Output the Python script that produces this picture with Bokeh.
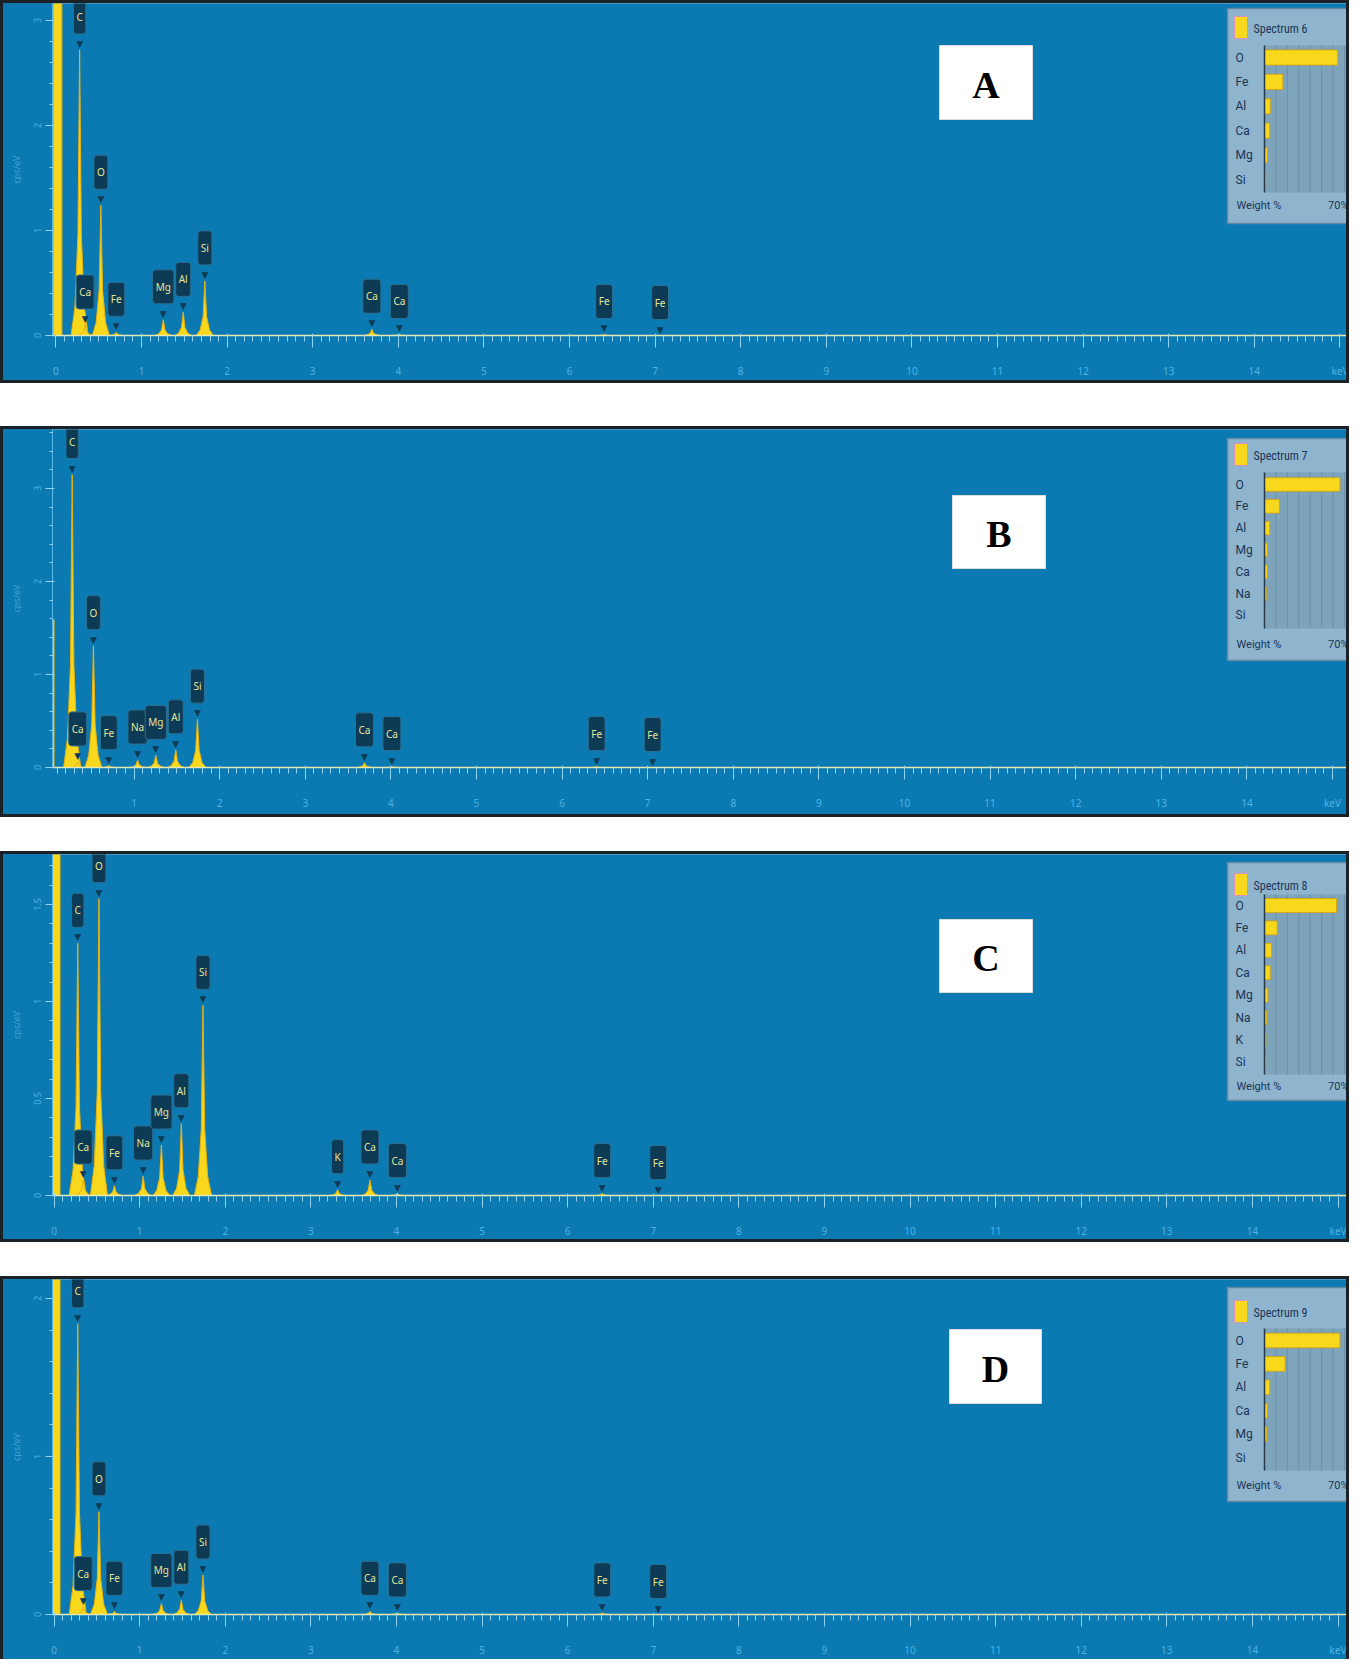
import numpy as np
from bokeh.plotting import figure
from bokeh.models import Range1d, FixedTicker, Spacer, ColumnDataSource, InlineStyleSheet
from bokeh.layouts import column
from bokeh.embed import file_html
from bokeh.resources import INLINE
from bokeh.core.properties import value

# ------------------------------------------------------------------ DATA
PANEL_LETTERS = ["A", "B", "C", "D"]
SPECTRUM_NAMES = ["Spectrum 6", "Spectrum 7", "Spectrum 8", "Spectrum 9"]

# peak lines (element label, energy keV, peak height cps/eV)
A_LINES = ["C", "Ca", "O", "Fe", "Mg", "Al", "Si", "Ca", "Ca", "Fe", "Fe"]
A_KEV = [0.277, 0.341, 0.525, 0.705, 1.254, 1.487, 1.740, 3.691, 4.012, 6.404, 7.058]
A_CPS = [2.72, 0.10, 1.24, 0.03, 0.15, 0.22, 0.52, 0.06, 0.01, 0.01, 0.00]

B_LINES = ["C", "Ca", "O", "Fe", "Na", "Mg", "Al", "Si", "Ca", "Ca", "Fe", "Fe"]
B_KEV = [0.277, 0.341, 0.525, 0.705, 1.041, 1.254, 1.487, 1.740, 3.691, 4.012, 6.404, 7.058]
B_CPS = [3.15, 0.06, 1.31, 0.02, 0.08, 0.13, 0.19, 0.52, 0.05, 0.01, 0.01, 0.00]

C_LINES = ["C", "Ca", "O", "Fe", "Na", "Mg", "Al", "Si", "K", "Ca", "Ca", "Fe", "Fe"]
C_KEV = [0.277, 0.341, 0.525, 0.705, 1.041, 1.254, 1.487, 1.740, 3.313, 3.691, 4.012, 6.404, 7.058]
C_CPS = [1.30, 0.08, 1.53, 0.05, 0.10, 0.26, 0.37, 0.98, 0.03, 0.08, 0.01, 0.01, 0.00]

D_LINES = ["C", "Ca", "O", "Fe", "Mg", "Al", "Si", "Ca", "Ca", "Fe", "Fe"]
D_KEV = [0.277, 0.341, 0.525, 0.705, 1.254, 1.487, 1.740, 3.691, 4.012, 6.404, 7.058]
D_CPS = [1.84, 0.05, 0.65, 0.02, 0.07, 0.09, 0.25, 0.02, 0.01, 0.01, 0.00]

# zero (noise) peak per panel
ZERO_KEV = [0.02, 0.05, 0.02, 0.02]
ZERO_CPS = [4.0, 1.59, 2.5, 3.0]

# y tick labels per panel
A_Y_TICKS = [0, 1, 2, 3]
B_Y_TICKS = [0, 1, 2, 3]
C_Y_TICKS = [0, 0.5, 1, 1.5]
D_Y_TICKS = [0, 1, 2]

# x ticks (keV), last one labelled with unit
X_TICKS = list(range(0, 16))
X_TICK_LABELS = [str(v) for v in range(0, 15)] + ["keV"]

# inset weight % bars
A_WT_EL = ["O", "Fe", "Al", "Ca", "Mg", "Si"]
A_WT = [64, 16, 5, 4.5, 2.5, 1.0]
B_WT_EL = ["O", "Fe", "Al", "Mg", "Ca", "Na", "Si"]
B_WT = [66, 13, 4.5, 2.5, 2.5, 1.5, 0.8]
C_WT_EL = ["O", "Fe", "Al", "Ca", "Mg", "Na", "K", "Si"]
C_WT = [63, 11, 6, 5, 3, 2, 1.2, 1.0]
D_WT_EL = ["O", "Fe", "Al", "Ca", "Mg", "Si"]
D_WT = [66, 18, 4.5, 2.5, 2.0, 0.8]
WT_MAX_LABEL = "70%"
WT_MAX = 70

# ------------------------------------------------------------------ STYLE / LAYOUT
BG = "#0b7ab3"
PEAK_FILL = "#f8d81c"
PEAK_EDGE = "#e9b10f"
TAG_BG = "#0d3a55"
TAG_EDGE = "#2b6f90"
TAG_TEXT = "#e4e69c"
AXIS_TXT = "#4fb2e4"
TICK_COL = "#8fd3f2"
INSET_BG = "#8fb4cd"
INSET_PLOT = "#7ea4bc"
INSET_TXT = "#1a3656"

PX_PER_KEV = 85.6
FRAME_LEFT_PAGE = 60
FRAME_W = 1295
HW = 0.1
PROFILE_DX = [-1.0, -0.55, -0.2, 0.0, 0.2, 0.55, 1.0]
PROFILE_FY = [0.0, 0.10, 0.35, 1.0, 0.35, 0.10, 0.0]
BAR_LEFT_PAGE = 1272
BAR_70_PAGE = 1352

BORDER_CSS = InlineStyleSheet(css="""
:host { position: relative; }
:host::after {
  content: "";
  position: absolute;
  left: 0; top: 0; right: 0; bottom: 0;
  border: 3px solid #1a2127;
  pointer-events: none;
  z-index: 1000;
}
""")
BORDER_CSS_OPEN = InlineStyleSheet(css="""
:host { position: relative; }
:host::after {
  content: "";
  position: absolute;
  left: 0; top: 0; right: 0; bottom: 0;
  border: 3px solid #1a2127;
  border-bottom: none;
  pointer-events: none;
  z-index: 1000;
}
""")

LAYOUT = [
    dict(top=8, frame_h=332, bottom=48, ppu=105, x_start=-0.04, zero_w=0.10,
         inset=(16, 231, 36, 65, 24.4, 53, 200, 213), box=(947, 1040, 53, 127)),
    dict(top=434, frame_h=338, bottom=50, ppu=93, x_start=0.047, zero_w=0.03,
         inset=(446, 668, 463, 492, 21.8, 480, 636, 652), box=(960, 1053, 503, 576)),
    dict(top=859, frame_h=341, bottom=47, ppu=194, x_start=-0.018, zero_w=0.10,
         inset=(870, 1108, 893, 913, 22.4, 902, 1082, 1094), box=(947, 1040, 927, 1000)),
    dict(top=1284, frame_h=335, bottom=45, ppu=158, x_start=-0.018, zero_w=0.10,
         inset=(1295, 1509, 1320, 1348, 23.4, 1336, 1478, 1493), box=(957, 1049, 1337, 1411)),
]

PANELS = [
    (A_LINES, A_KEV, A_CPS, A_Y_TICKS, A_WT_EL, A_WT),
    (B_LINES, B_KEV, B_CPS, B_Y_TICKS, B_WT_EL, B_WT),
    (C_LINES, C_KEV, C_CPS, C_Y_TICKS, C_WT_EL, C_WT),
    (D_LINES, D_KEV, D_CPS, D_Y_TICKS, D_WT_EL, D_WT),
]


def build(i):
    lines, kev, cps, yticks, wt_el, wt = PANELS[i]
    L = LAYOUT[i]
    ftop = L["top"] + 3
    fbot = ftop + L["frame_h"]
    p = figure(frame_width=FRAME_W, frame_height=L["frame_h"],
               min_border_left=52, min_border_right=2, min_border_top=3,
               min_border_bottom=L["bottom"],
               x_range=Range1d(L["x_start"], L["x_start"] + FRAME_W / PX_PER_KEV),
               y_range=Range1d(0, L["frame_h"] / L["ppu"]),
               output_backend="svg", toolbar_location=None,
               background_fill_color=BG, border_fill_color=BG, outline_line_color=None)
    p.stylesheets = [BORDER_CSS_OPEN if i == 3 else BORDER_CSS]
    s = (BAR_70_PAGE - BAR_LEFT_PAGE) / WT_MAX
    p.extra_x_ranges = {
        "px": Range1d(FRAME_LEFT_PAGE, FRAME_LEFT_PAGE + FRAME_W),
        "wt": Range1d((FRAME_LEFT_PAGE - BAR_LEFT_PAGE) / s,
                      (FRAME_LEFT_PAGE + FRAME_W - BAR_LEFT_PAGE) / s),
    }
    p.extra_y_ranges = {"px": Range1d(fbot, ftop)}
    p.grid.grid_line_color = None

    # x axis
    xa = p.xaxis[0]
    xa.ticker = FixedTicker(ticks=X_TICKS, minor_ticks=list(np.arange(0, 151) / 10))
    xa.major_label_overrides = {t: lab for t, lab in zip(X_TICKS, X_TICK_LABELS)}
    xa.axis_line_color = "#e8eab0"
    xa.axis_line_width = 1.5
    xa.major_tick_line_color = TICK_COL
    xa.minor_tick_line_color = TICK_COL
    xa.major_tick_in = 2
    xa.major_tick_out = 12
    xa.minor_tick_in = 0
    xa.minor_tick_out = 6
    xa.major_label_standoff = 16
    xa.major_label_text_color = AXIS_TXT
    xa.major_label_text_font = "Noto Sans"
    xa.major_label_text_font_size = "10px"

    # y axis
    ya = p.yaxis[0]
    ystep = yticks[1] - yticks[0]
    ya.ticker = FixedTicker(ticks=yticks,
                            minor_ticks=list(np.arange(0, 5 * len(yticks) + 5) * ystep / 5))
    ya.axis_line_color = "#5ab7e6"
    ya.major_tick_line_color = TICK_COL
    ya.minor_tick_line_color = TICK_COL
    ya.major_tick_out = 7
    ya.minor_tick_out = 3
    ya.major_label_orientation = "vertical"
    ya.major_label_text_color = AXIS_TXT
    ya.major_label_text_font = "Noto Sans"
    ya.major_label_text_font_size = "9px"
    ya.axis_label = "cps/eV"
    ya.axis_label_text_color = "#3fa2d6"
    ya.axis_label_text_font = "Noto Sans"
    ya.axis_label_text_font_style = "normal"
    ya.axis_label_text_font_size = "9px"
    ya.axis_label_standoff = 8

    # zero peak
    p.vbar(x=[ZERO_KEV[i]], top=[ZERO_CPS[i]], bottom=0, width=L["zero_w"],
           fill_color=PEAK_FILL, line_color=PEAK_EDGE, line_width=1)
    # element peaks
    xs = [[e + d * HW for d in PROFILE_DX] for e in kev]
    ys = [[h * f for f in PROFILE_FY] for h in cps]
    p.patches(xs, ys, fill_color=PEAK_FILL, line_color=PEAK_EDGE, line_width=1)

    # element tags
    src = ColumnDataSource(dict(x=kev, y=cps, t=lines))
    p.text(x="x", y="y", text=value("\u25BC"), source=src, y_offset=-1,
           text_align="center", text_baseline="bottom", text_color=TAG_BG,
           text_font=value("DejaVu Sans"), text_font_size="9px")
    p.text(x="x", y="y", text="t", source=src, y_offset=-16,
           text_align="center", text_baseline="bottom", text_color=TAG_TEXT,
           text_font=value("Noto Sans"), text_font_size="10px",
           background_fill_color=TAG_BG, border_line_color=TAG_EDGE,
           padding=dict(left=3, right=3, top=10, bottom=10), border_radius=3)

    # letter box
    bx0, bx1, by0, by1 = L["box"]
    p.quad(left=[bx0], right=[bx1], top=[by0], bottom=[by1],
           x_range_name="px", y_range_name="px",
           fill_color="white", line_color="#dcdcdc")
    p.text(x=[(bx0 + bx1) / 2], y=[(by0 + by1) / 2 + 2], text=[PANEL_LETTERS[i]],
           x_range_name="px", y_range_name="px",
           text_align="center", text_baseline="middle", text_color="black",
           text_font=value("Liberation Serif"), text_font_style="bold",
           text_font_size="38px")

    # inset weight % chart
    it, ib, hy, r0, rstep, pt, pb, fy = L["inset"]
    p.quad(left=[1235], right=[1362], top=[it], bottom=[ib],
           x_range_name="px", y_range_name="px",
           fill_color=INSET_BG, line_color="#5f88a3", line_width=1.5)
    p.quad(left=[BAR_LEFT_PAGE], right=[1362], top=[pt], bottom=[pb],
           x_range_name="px", y_range_name="px",
           fill_color=INSET_PLOT, line_color=None)
    grid = list(range(10, 80, 10))
    p.segment(x0=grid, x1=grid, y0=[pt] * len(grid), y1=[pb] * len(grid),
              x_range_name="wt", y_range_name="px", line_color="#6b92ab", line_width=1)
    rows = [r0 + k * rstep for k in range(len(wt_el))]
    p.hbar(y=rows, left=0, right=wt, height=rstep * 0.62,
           x_range_name="wt", y_range_name="px",
           fill_color=PEAK_FILL, line_color="#d9a400", line_width=0.8)
    p.segment(x0=[BAR_LEFT_PAGE], x1=[BAR_LEFT_PAGE], y0=[pt], y1=[pb],
              x_range_name="px", y_range_name="px", line_color="#26394a", line_width=1.5)
    p.quad(left=[1242], right=[1255], top=[hy - 12], bottom=[hy + 10],
           x_range_name="px", y_range_name="px",
           fill_color=PEAK_FILL, line_color="#d890c0", line_width=1)
    p.text(x=[1261], y=[hy], text=[SPECTRUM_NAMES[i]],
           x_range_name="px", y_range_name="px",
           text_align="left", text_baseline="middle", text_color=INSET_TXT,
           text_font=value("Roboto Condensed"), text_font_size="12px")
    p.text(x=[1243] * len(wt_el), y=rows, text=wt_el,
           x_range_name="px", y_range_name="px",
           text_align="left", text_baseline="middle", text_color=INSET_TXT,
           text_font=value("Roboto"), text_font_size="12px")
    p.text(x=[1244, 1356], y=[fy, fy], text=["Weight %", WT_MAX_LABEL],
           x_range_name="px", y_range_name="px",
           text_align=["left", "right"], text_baseline="middle", text_color=INSET_TXT,
           text_font=value("Roboto"), text_font_size="11px")
    return p


figs = [build(i) for i in range(4)]
layout = column(figs[0], Spacer(height=43), figs[1], Spacer(height=34),
                figs[2], Spacer(height=34), figs[3], spacing=0)

open("out.html", "w").write(file_html(layout, INLINE))
